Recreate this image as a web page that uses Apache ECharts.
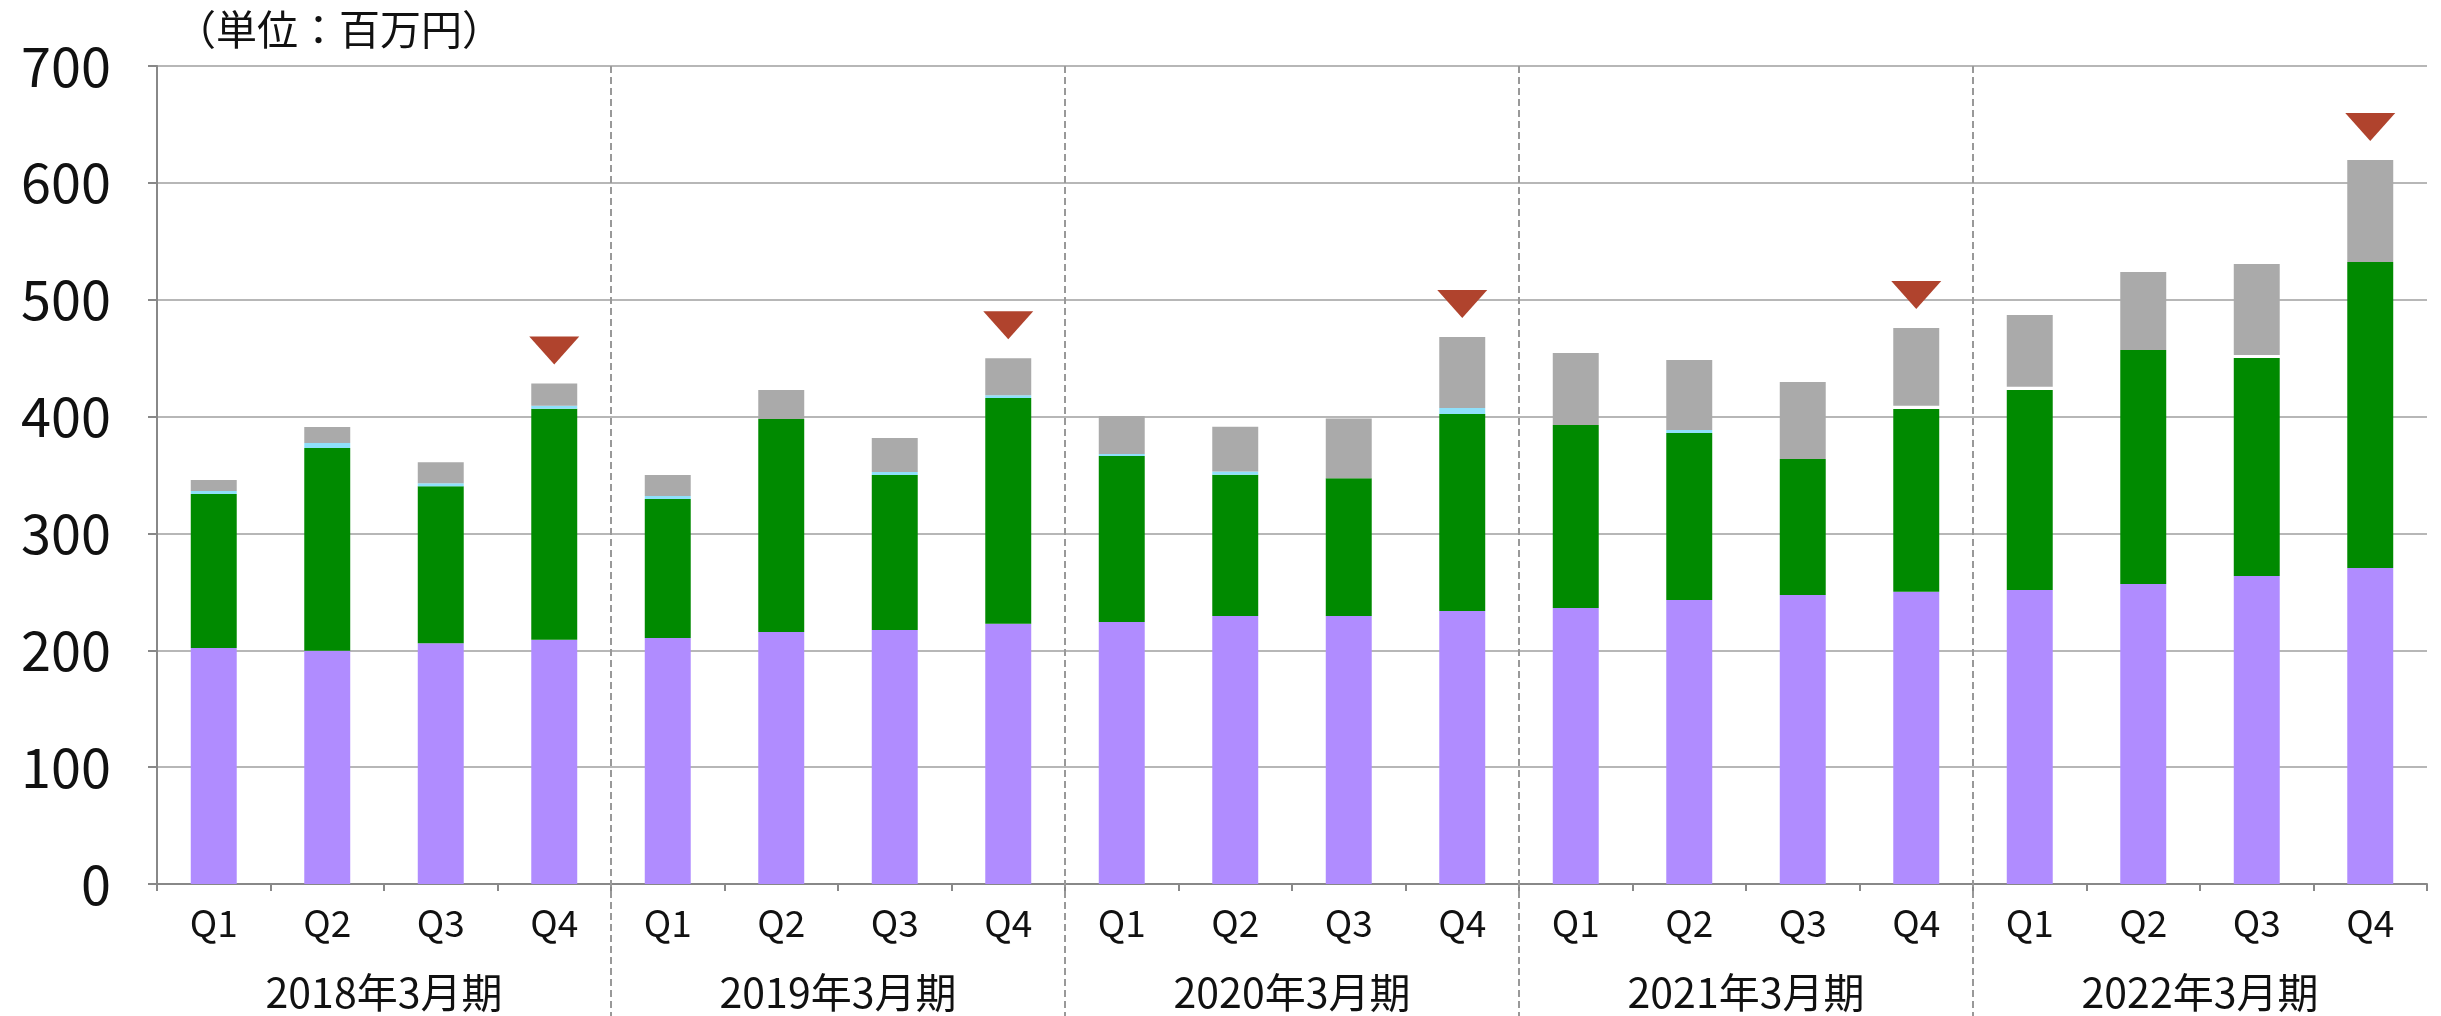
<!DOCTYPE html>
<html>
<head>
<meta charset="utf-8">
<title>四半期売上</title>
<script src="https://cdn.jsdelivr.net/npm/echarts@6/dist/echarts.min.js"></script>
<style>
  html, body { margin: 0; padding: 0; background: #fff; }
  #chart { width: 2441px; height: 1016px; }
</style>
</head>
<body>
<div id="chart"></div>
<script>
const years = ["2018年3月期", "2019年3月期", "2020年3月期", "2021年3月期", "2022年3月期"];
const quarters = ["Q1", "Q2", "Q3", "Q4"];
const yTicks = [0, 100, 200, 300, 400, 500, 600, 700];
const unitLabel = "（単位：百万円）";

// stacked segments, bottom to top (百万円)
const purpleVals = [202, 199.5, 206, 209, 210.5, 215.6, 217.4, 222.8, 224.2, 229.3, 229.3, 233.6, 236.2, 243, 247.3, 250, 251.6, 256.7, 263.6, 270.4];
const greenVals = [131.7, 173.5, 134.4, 197.7, 119, 182.3, 132.6, 193, 142, 121, 118, 168.6, 156.6, 142.9, 116.4, 156.5, 171.1, 200.3, 186.5, 261.9];
const cyanVals = [2.6, 4.4, 2.5, 2.5, 2.5, 0, 2.6, 2.5, 1.7, 2.6, 0, 5.1, 0, 2.6, 0, 0, 0, 0, 0, 0];
const whiteVals = [0, 0, 0, 0, 0, 0, 0, 0, 0, 0, 0, 0, 0, 0, 0, 2.7, 2.8, 0, 2.6, 0];
const grayVals = [9.4, 13.6, 18, 19, 18, 24.8, 29.1, 31.7, 32.5, 38.4, 51, 60.8, 61.6, 59.9, 65.9, 66.6, 61.4, 66.7, 77.8, 87.2];

const categories = years.flatMap(() => quarters);
const totals = categories.map((_, i) => purpleVals[i] + greenVals[i] + cyanVals[i] + whiteVals[i] + grayVals[i]);
const markerVals = categories.map((q, i) => (q === "Q4" ? totals[i] : "-"));

const FONT = "'Noto Sans CJK JP', 'Noto Sans', sans-serif";
const chart = echarts.init(document.getElementById("chart"));

function barSeries(name, data, color) {
  return {
    name: name,
    type: "bar",
    stack: "total",
    barWidth: "40.5%",
    data: data,
    itemStyle: { color: color },
    emphasis: { disabled: true }
  };
}

chart.setOption({
  animation: false,
  backgroundColor: "#fff",
  textStyle: { fontFamily: FONT, color: "#111" },
  title: {
    text: unitLabel,
    left: 170,
    top: 4,
    textStyle: { fontFamily: FONT, fontSize: 41, fontWeight: "normal", color: "#111" }
  },
  grid: { left: 157, right: 14, top: 66, bottom: 132, containLabel: false },
  xAxis: [
    {
      type: "category",
      data: categories,
      axisLine: { lineStyle: { color: "#888", width: 2 } },
      axisTick: { show: true, length: 7, lineStyle: { color: "#888", width: 2 } },
      axisLabel: { fontFamily: FONT, fontSize: 37, color: "#111", margin: 20, interval: 0 },
      splitLine: { show: false }
    },
    {
      type: "category",
      position: "bottom",
      data: years,
      axisLine: { show: false },
      axisTick: { show: false },
      axisLabel: { fontFamily: FONT, fontSize: 41, color: "#111", margin: 88, interval: 0 },
      splitLine: { show: false }
    }
  ],
  yAxis: {
    type: "value",
    min: yTicks[0],
    max: yTicks[yTicks.length - 1],
    interval: 100,
    axisLine: { show: true, lineStyle: { color: "#888", width: 2 } },
    axisTick: { show: true, length: 9, lineStyle: { color: "#888", width: 2 } },
    axisLabel: { fontFamily: FONT, fontSize: 54, color: "#111", margin: 46 },
    splitLine: { lineStyle: { color: "#b7b7b7", width: 2 } }
  },
  series: [
    barSeries("purple", purpleVals, "#b08cff"),
    barSeries("green", greenVals, "#008a00"),
    barSeries("cyan", cyanVals, "#8fe0fa"),
    barSeries("white", whiteVals, "#ffffff"),
    barSeries("gray", grayVals, "#aaaaaa"),
    {
      name: "marker",
      type: "scatter",
      data: markerVals,
      symbol: "path://M0,0 L50,0 L25,28 Z",
      symbolSize: [50, 28],
      symbolOffset: [0, -33],
      itemStyle: { color: "#b0432d", opacity: 1 },
      z: 5
    }
  ]
});

// dashed separators between fiscal years, placed from the category axis
const topY = chart.convertToPixel({ yAxisIndex: 0 }, yTicks[yTicks.length - 1]);
const seps = [];
for (let k = 1; k < years.length; k++) {
  const a = chart.convertToPixel({ xAxisIndex: 0 }, k * quarters.length - 1);
  const b = chart.convertToPixel({ xAxisIndex: 0 }, k * quarters.length);
  const x = Math.round((a + b) / 2);
  seps.push({
    type: "line",
    shape: { x1: x, y1: topY, x2: x, y2: chart.getHeight() },
    style: { stroke: "#999", lineWidth: 2, lineDash: [7, 4] },
    z: 10,
    silent: true
  });
}
chart.setOption({ graphic: seps });
</script>
</body>
</html>
